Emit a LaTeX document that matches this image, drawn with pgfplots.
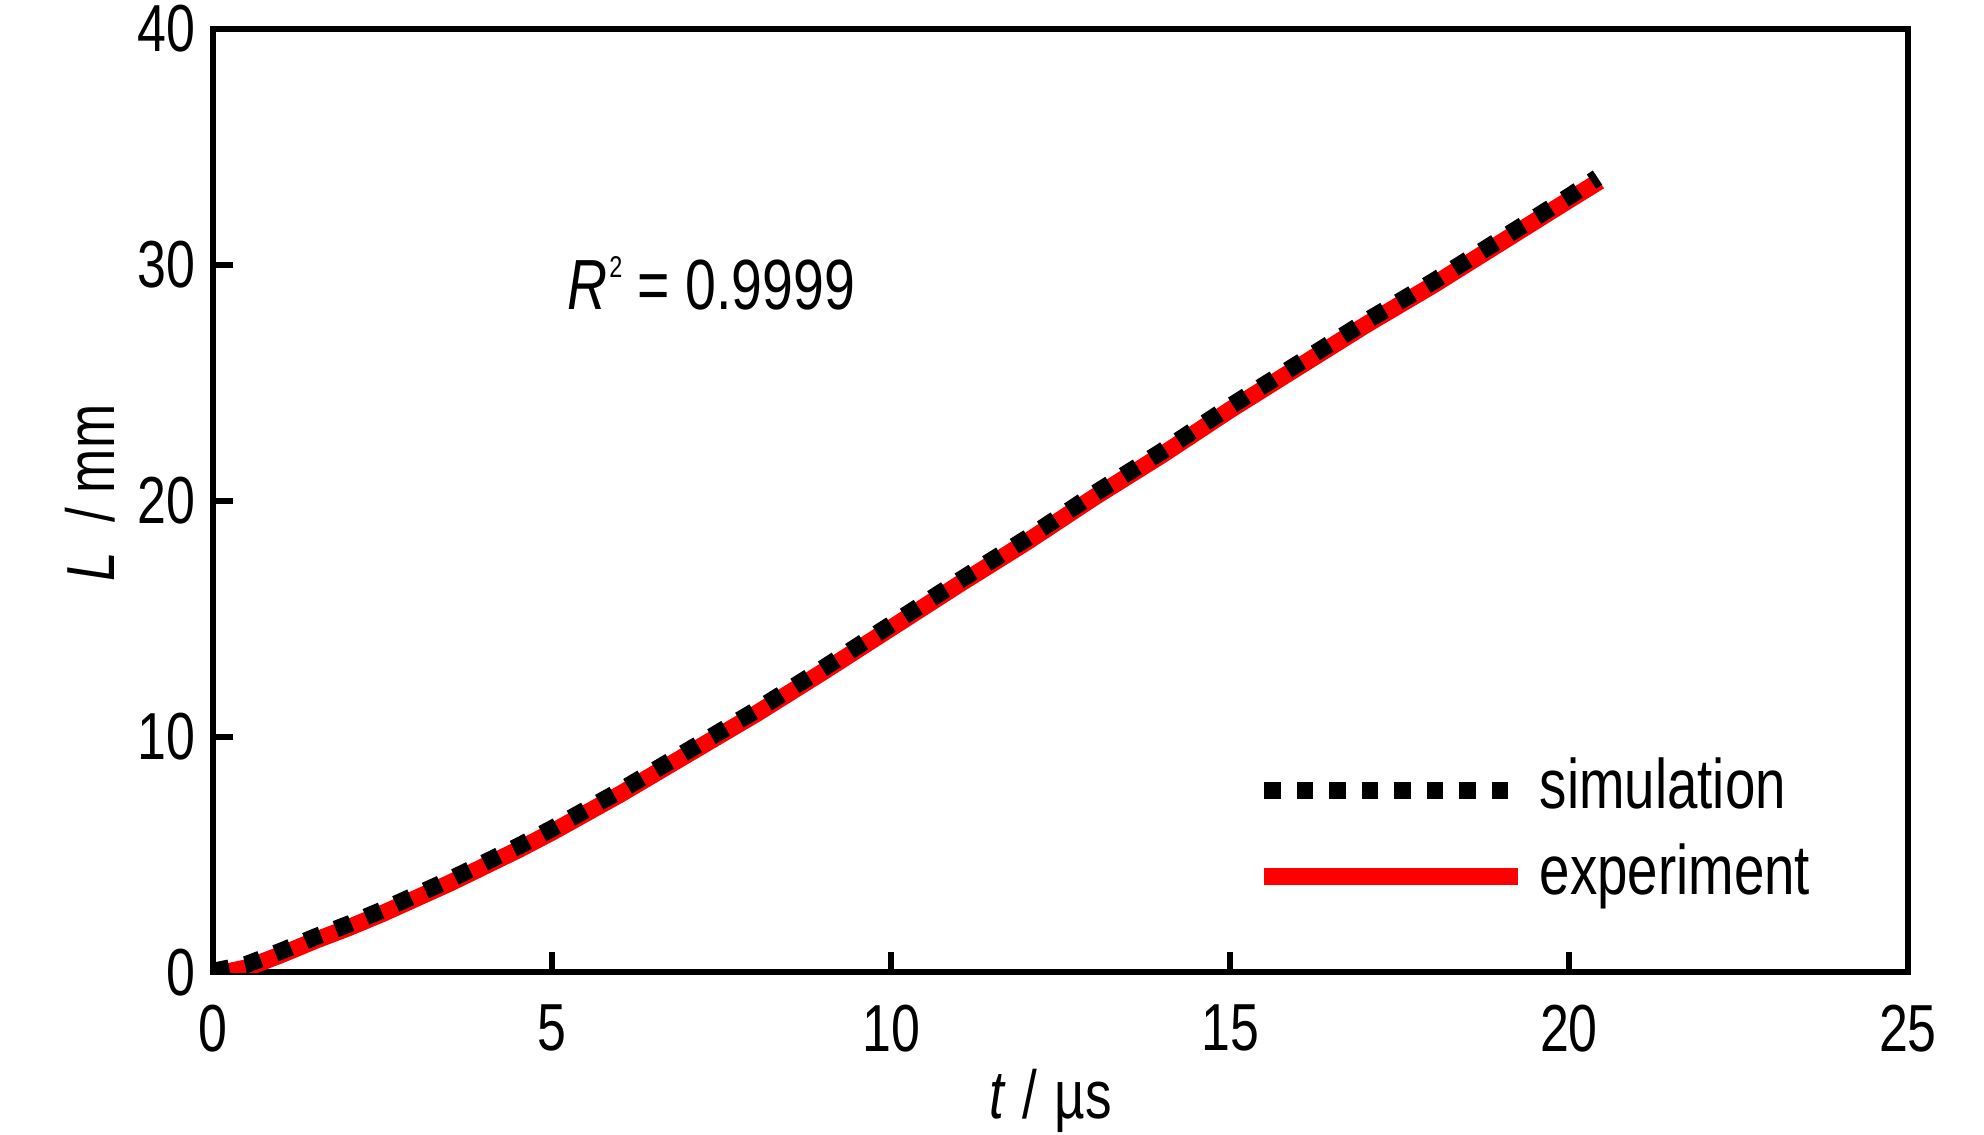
\documentclass[border=0pt]{standalone}
\usepackage{fontspec}
\setmainfont[FakeStretch=0.78]{Liberation Sans}
\usepackage{pgfplots}
\pgfplotsset{compat=1.18}
\begin{document}
\begin{tikzpicture}
\begin{axis}[
  name=ax, at={(0,0)}, anchor=south west,
  width=338.8pt, height=188.6pt, scale only axis,
  xmin=0, xmax=25, ymin=0, ymax=40,
  xtick={0,5,...,25}, ytick={0,10,...,40},
  tick align=inside, tick pos=left,
  major tick length=4pt,
  tick style={line width=1.2pt, black},
  axis line style={line width=1.2pt},
  /pgf/number format/assume math mode=true,
  tick label style={font=\fontsize{13.3}{15}\selectfont},
  xticklabel style={yshift=-3pt},
  label style={font=\fontsize{13.6}{16}\selectfont},
  xlabel={\textit{t}\hspace{0.25em}/\hspace{0.25em}µs},
  ylabel={\textit{L}\ \ / mm},
  xlabel style={at={(axis description cs:0.494,-0.1548)}, anchor=base},
  ylabel style={at={(axis description cs:-0.0579,0.508)}, anchor=base},
  legend style={draw=none, fill=none, at={(axis cs:15.38,9.30)}, anchor=north west,
    inner sep=0pt, outer sep=0pt, row sep=0.6pt, column sep=2.6pt,
    font=\fontsize{14}{16}\selectfont,
    nodes={inner sep=0pt, text height=11pt, text depth=5.6pt}},
  legend cell align=left,
  legend image code/.code={\draw[#1] (0pt,0.9pt) -- (50.8pt,0.9pt);},
]
\addlegendimage{black, line width=3.4pt, dash pattern=on 3.3pt off 3.2pt}
\addlegendentry{simulation}
\addlegendimage{red, line width=3.4pt}
\addlegendentry{experiment}
\addplot[red, line width=3.4pt, forget plot] coordinates {
(0,-0.1) (0.5,0.2) (1,0.75) (1.5,1.35) (2,1.9) (2.5,2.5) (3,3.15) (3.5,3.8)
(4,4.5) (4.5,5.2) (5,5.95) (6,7.55) (7,9.25) (8,10.95) (9,12.75) (10,14.6)
(11,16.45) (12,18.25) (13,20.15) (14,21.95) (15,23.85) (16,25.65) (17,27.45)
(18,29.15) (19,30.95) (20,32.75) (20.45,33.55)
};
\addplot[black, line width=3.4pt, dash pattern=on 3.3pt off 3.2pt, forget plot] coordinates {
(0,0.05) (0.5,0.35) (1,0.9) (1.5,1.5) (2,2.05) (2.5,2.65) (3,3.3) (3.5,3.95)
(4,4.65) (4.5,5.35) (5,6.1) (6,7.7) (7,9.4) (8,11.1) (9,12.9) (10,14.75)
(11,16.6) (12,18.4) (13,20.3) (14,22.1) (15,24.0) (16,25.8) (17,27.6)
(18,29.3) (19,31.1) (20,32.9) (20.42,33.7)
};
\node[anchor=base west, font=\fontsize{14.2}{16}\selectfont, inner sep=0pt]
  at (axis cs:5.22,28.12) {\textit{R}\hspace{0.02em}\raisebox{6.3pt}{\fontsize{6}{7}\selectfont 2} = 0.9999};
\end{axis}
\pgfresetboundingbox
\path (-42.6pt,-32.4pt) rectangle (354pt,194.4pt);
\end{tikzpicture}
\end{document}
